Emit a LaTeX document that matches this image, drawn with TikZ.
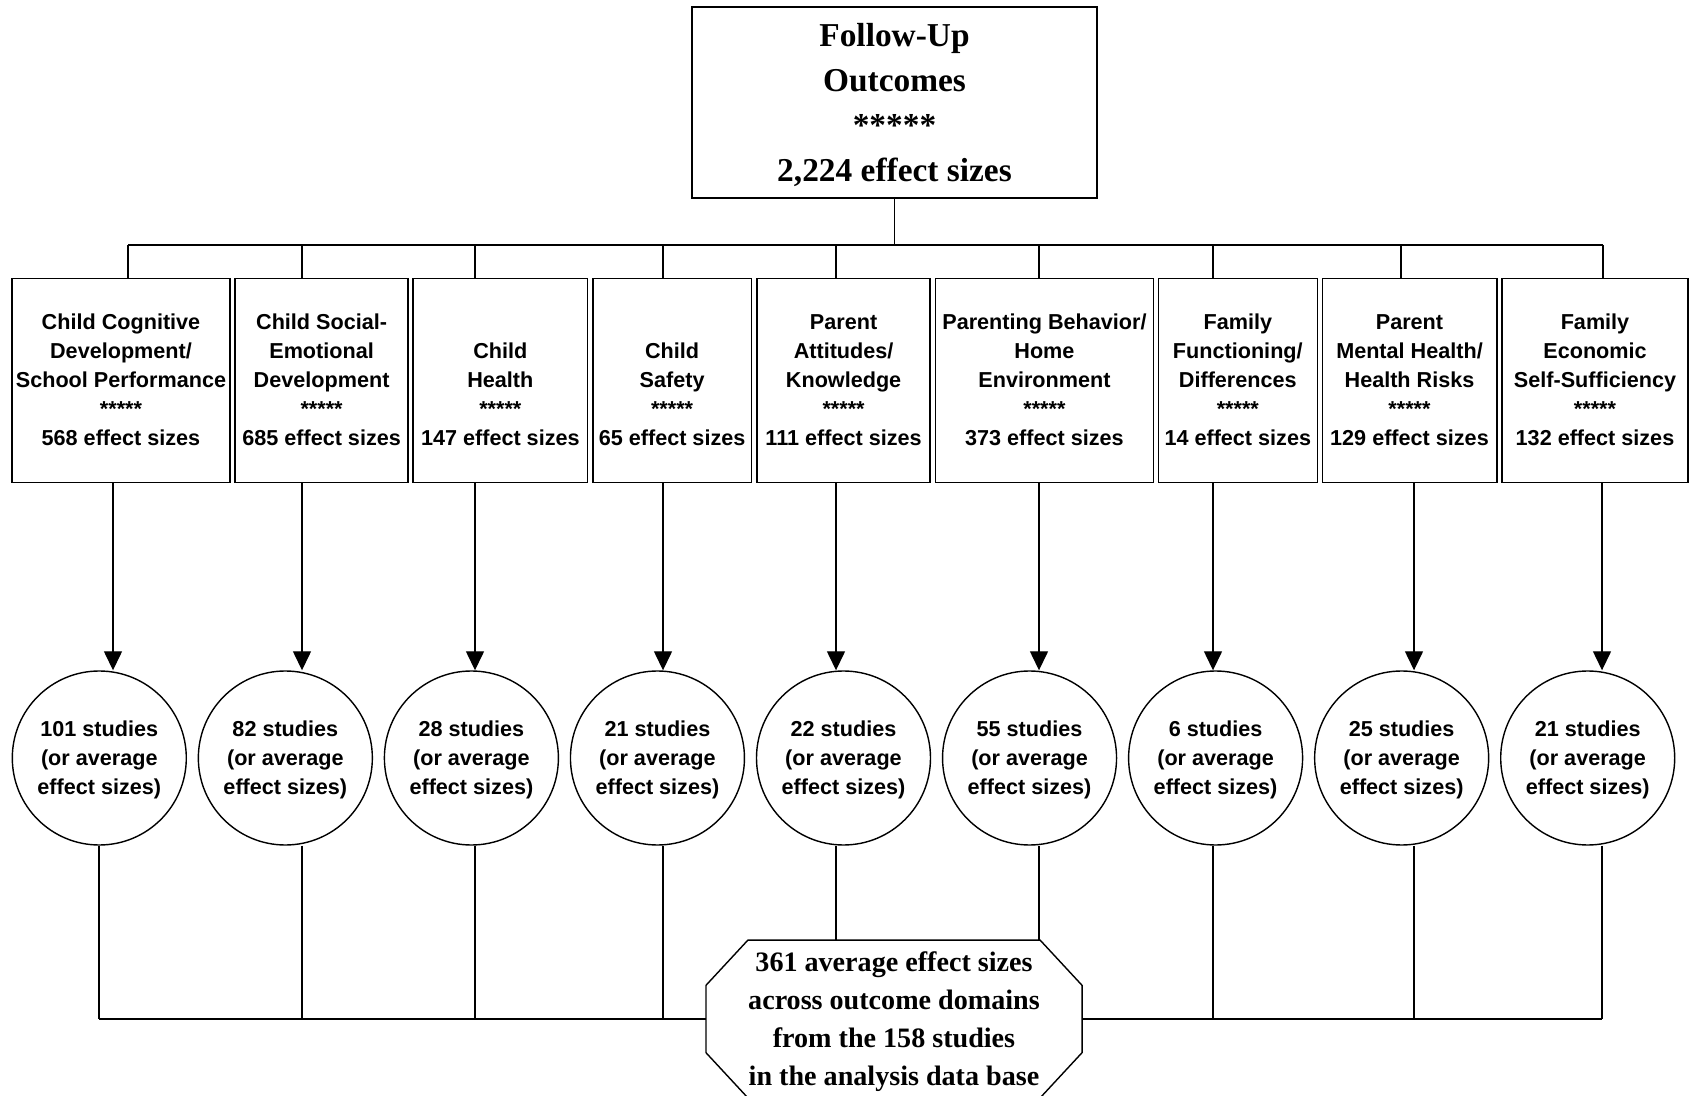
\documentclass[tikz,border=0pt]{standalone}
\usepackage{fontspec}
\setmainfont{Liberation Serif}
\setsansfont{Liberation Sans}
\usetikzlibrary{arrows.meta,calc,positioning}
\tikzset{
         domainbox/.style={draw,line width=.9pt,inner sep=0pt,minimum height=4.076cm},
         domtext/.style={inner sep=0pt,align=center,
          font=\sffamily\bfseries\fontsize{12.3}{16.5}\selectfont},
         studies/.style={circle,draw,line width=.8pt,inner sep=0pt,minimum size=3.48cm,
          text depth=0pt,align=center,font=\sffamily\bfseries\fontsize{12.3}{16.5}\selectfont},
         link/.style={line width=.8pt},
         arr/.style={line width=.8pt,-{Triangle[length=3.8mm,width=3.6mm]}}
        }
\begin{document}
\begin{tikzpicture}
\useasboundingbox(0,0)rectangle(33.8,21.9);
%top
\node[draw,line width=.9pt,minimum width=8.1cm,minimum height=3.81cm,align=center,text depth=0pt,
font=\bfseries\fontsize{19}{25.5}\selectfont](top)at(17.89,19.85)
{Follow-Up\\Outcomes\\*****\\2,224 effect sizes};
%domains
\foreach \i/\x/\w/\t/\n in {1/2.42/4.36/{Child Cognitive\\Development/\\School Performance}/568,
2/6.432/3.464/{Child Social-\\Emotional\\Development}/685,
3/10.007/3.486/{Child\\Health}/147,
4/13.442/3.172/{Child\\Safety}/65,
5/16.872/3.464/{Parent\\Attitudes/\\Knowledge}/111,
6/20.889/4.354/{Parenting Behavior/\\Home\\Environment}/373,
7/24.756/3.18/{Family\\Functioning/\\Differences}/14,
8/28.19/3.488/{Parent\\Mental Health/\\Health Risks}/129,
9/31.9/3.72/{Family\\Economic\\Self-Sufficiency}/132}{
\node[domainbox,minimum width=\w cm](d\i)at(\x,14.29){};
\node[domtext,above=0.746cm of d\i.south](t\i){\t\\*****\\\n{} effect sizes};
}
%studies
\foreach \i/\n in {1/101,2/82,3/28,4/21,5/22,6/55,7/6,8/25,9/21}{
\node[studies](c\i)at({1.986+3.721*(\i-1)},6.74){\n{} studies\\(or average\\effect sizes)};
}
%pool
\node[inner sep=0pt,minimum width=7.508cm,minimum height=3.144cm,align=center,text depth=0pt,
font=\bfseries\fontsize{16}{21.6}\selectfont](oct)at(17.88,1.52)
{361 average effect sizes\\across outcome domains\\from the 158 studies\\in the analysis data base};
\draw[link]($(oct.north west)+(.84,0)$)--($(oct.north east)+(-.84,0)$)--
($(oct.north east)+(0,-.906)$)--($(oct.south east)+(0,.906)$)--
($(oct.south east)+(-.84,0)$)--($(oct.south west)+(.84,0)$)--
($(oct.south west)+(0,.906)$)--($(oct.north west)+(0,-.906)$)--cycle;
%links
\foreach \i/\s/\a/\b in {1/2.56/2.26/1.98,2/6.04/6.04/6.04,3/9.5/9.5/9.5,
4/13.26/13.26/13.26,5/16.72/16.72/16.72,6/20.78/20.78/20.78,
7/24.26/24.26/24.26,8/28.02/28.28/28.28,9/32.06/32.04/32.04}{
\coordinate(s\i)at(\s,17);
\coordinate(a\i)at(\a,0);
\coordinate(b\i)at(\b,1.52);
\draw[link](s\i)--(d\i.north -| s\i);
\draw[arr](d\i.south -| a\i)--(c\i.north -| a\i);
}
\draw[link](top.south)--(top.south |- s1);
\draw[link](s1)--(s9);
\foreach \i in {1,2,3,4,7,8,9}{
\draw[link](c\i.south -| b\i)--(b\i);
}
\draw[link](c5.south -| b5)--(oct.north -| b5);
\draw[link](c6.south -| b6)--(oct.north -| b6);
\draw[link](b1)--(oct.west);
\draw[link](oct.east)--(b9);
\end{tikzpicture}
\end{document}
